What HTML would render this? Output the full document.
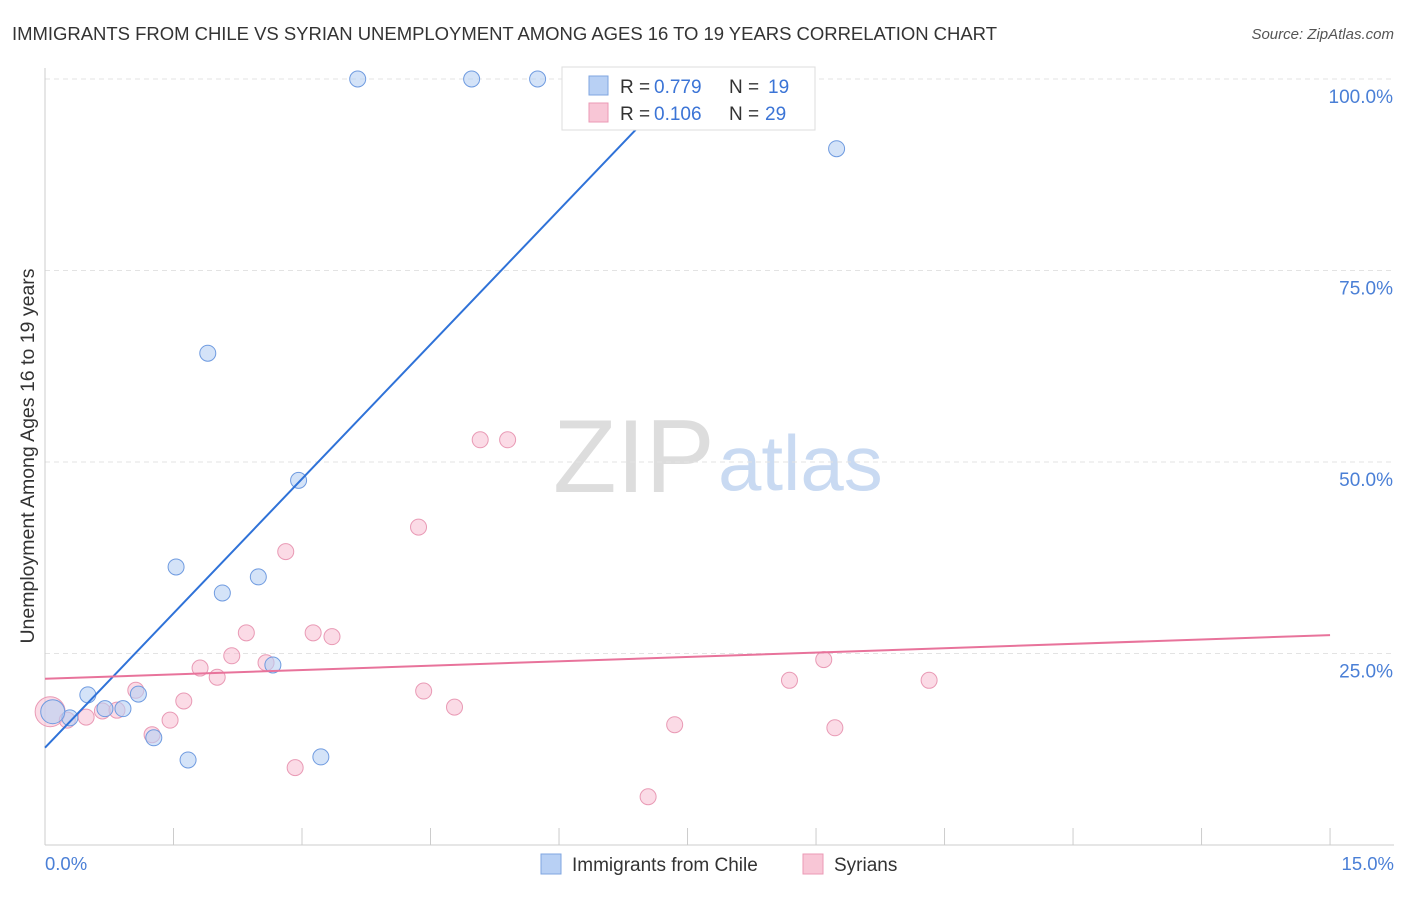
<!DOCTYPE html>
<html><head><meta charset="utf-8"><style>
body{margin:0;background:#fff;font-family:"Liberation Sans",sans-serif}
svg text{font-family:"Liberation Sans",sans-serif}
</style></head><body>
<svg width="1406" height="892">
<text x="12" y="40" font-size="18.5" fill="#333" textLength="985">IMMIGRANTS FROM CHILE VS SYRIAN UNEMPLOYMENT AMONG AGES 16 TO 19 YEARS CORRELATION CHART</text>
<text x="1394" y="39" font-size="15" fill="#555" font-style="italic" text-anchor="end">Source: ZipAtlas.com</text>
<text x="553" y="492" font-size="104" fill="#ddd" font-family="Liberation Serif">ZIP</text>
<text x="718" y="490" font-size="78" fill="#c9daf2">atlas</text>
<g id="grid"></g>
<line x1="45" y1="68" x2="45" y2="845" stroke="#ccc"/>
<line x1="45" y1="845" x2="1394" y2="845" stroke="#ccc"/>
<text x="34" y="456" font-size="19.5" fill="#333" text-anchor="middle" transform="rotate(-90 34 456)">Unemployment Among Ages 16 to 19 years</text>
<text x="45" y="870" font-size="18.5" fill="#4a7fd6">0.0%</text>
<text x="1394" y="870" font-size="18.5" fill="#4a7fd6" text-anchor="end">15.0%</text>
<g id="marks"></g>
<g>
<rect x="562" y="67" width="253" height="63" fill="#fff" stroke="#ddd"/>
<rect x="589" y="76" width="19" height="19" fill="#b8d0f4" stroke="#7fa6e0"/>
<rect x="589" y="103" width="19" height="19" fill="#f8c6d6" stroke="#eb9ab5"/>
<text x="620" y="93" font-size="19" fill="#333">R =</text>
<text x="654" y="93" font-size="19" fill="#3b74d6">0.779</text>
<text x="729" y="93" font-size="19" fill="#333">N =</text>
<text x="768" y="93" font-size="19" fill="#3b74d6">19</text>
<text x="620" y="120" font-size="19" fill="#333">R =</text>
<text x="654" y="120" font-size="19" fill="#3b74d6">0.106</text>
<text x="729" y="120" font-size="19" fill="#333">N =</text>
<text x="765" y="120" font-size="19" fill="#3b74d6">29</text>
</g>
<g>
<rect x="541" y="854" width="20" height="20" fill="#b8d0f4" stroke="#7fa6e0"/>
<text x="572" y="871" font-size="19" fill="#333">Immigrants from Chile</text>
<rect x="803" y="854" width="20" height="20" fill="#f8c6d6" stroke="#eb9ab5"/>
<text x="834" y="871" font-size="19" fill="#333">Syrians</text>
</g>
</svg>
<script>
const yTicks=[25,50,75,100];
const yTickLabels=["25.0%","50.0%","75.0%","100.0%"];
const xTicks=[0,1.5,3,4.5,6,7.5,9,10.5,12,13.5,15];
const chileX=[3.65,4.98,5.75,9.24,1.90,2.96,1.53,2.49,2.07,2.66,1.09,0.50,0.91,0.70,0.29,0.09,1.27,1.67,3.22];
const chileY=[100,100,100,90.9,64.2,47.6,36.3,35.0,32.9,23.5,19.7,19.6,17.8,17.8,16.6,17.4,14.0,11.1,11.5];
const syrX=[0.06,0.26,0.48,0.67,0.84,1.06,1.25,1.46,1.62,1.81,2.01,2.18,2.35,2.58,2.81,2.92,3.13,3.35,4.36,4.42,4.78,5.08,5.40,7.04,7.35,8.69,9.09,9.22,10.32];
const syrY=[17.4,16.3,16.7,17.5,17.6,20.2,14.4,16.3,18.8,23.1,21.9,24.7,27.7,23.8,38.3,10.1,27.7,27.2,41.5,20.1,18.0,52.9,52.9,6.3,15.7,21.5,24.2,15.3,21.5];
const chileTrend=[12.7,11.7];
const syrTrend=[21.7,0.38];
const NS="http://www.w3.org/2000/svg";
const X=v=>45+v*85.67, Y=v=>845-v*7.66;
function mk(t,a,p){const e=document.createElementNS(NS,t);for(const k in a)e.setAttribute(k,a[k]);p.appendChild(e);return e;}
const grid=document.getElementById('grid'), marks=document.getElementById('marks');
yTicks.forEach((t,i)=>{
 const l=mk('line',{x1:45,x2:1394,y1:Y(t),y2:Y(t),stroke:'#e3e3e3','stroke-dasharray':'5,4'},grid);
 
 
 const tx=mk('text',{x:1393,y:Y(t)+24,'font-size':19,fill:'#4a7fd6','text-anchor':'end'},grid);
 tx.textContent=yTickLabels[i];
 
 
});
xTicks.forEach(t=>{
 const l=mk('line',{x1:X(t),x2:X(t),y1:828,y2:845,stroke:'#ccc'},grid);
 
 
});
syrX.forEach((x,i)=>{
 const c=mk('circle',{cx:X(x),cy:Y(syrY[i]),r:i==0?15:8,fill:'rgba(248,190,210,0.55)',stroke:'#e99ab5','stroke-width':1},marks);
 
 
});
chileX.forEach((x,i)=>{
 const c=mk('circle',{cx:X(x),cy:Y(chileY[i]),r:i==15?12:8,fill:'rgba(184,208,244,0.6)',stroke:'#6f9be0','stroke-width':1},marks);
 
 
});
const xe=(100-chileTrend[0])/chileTrend[1];
const bl=mk('line',{x1:X(0),y1:Y(chileTrend[0]),x2:X(xe),y2:Y(100),stroke:'#2f72d8','stroke-width':2},marks);


const pl=mk('line',{x1:X(0),y1:Y(syrTrend[0]),x2:X(15),y2:Y(syrTrend[0]+15*syrTrend[1]),stroke:'#e8739b','stroke-width':2},marks);


</script>
</body></html>
